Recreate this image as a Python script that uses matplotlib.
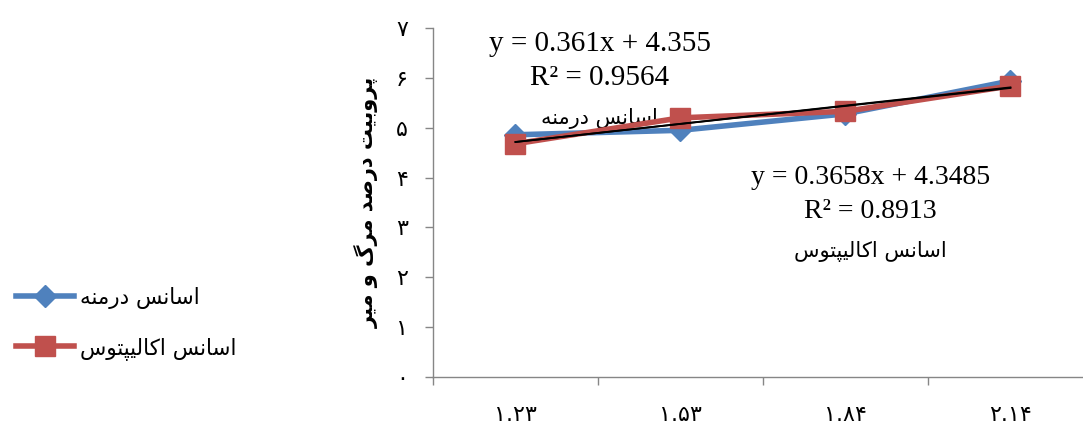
import numpy as np
import matplotlib
matplotlib.use("Agg")
import matplotlib.pyplot as plt

# ---------------- data ----------------
dose_labels = ['۱.۲۳', '۱.۵۳', '۱.۸۴', '۲.۱۴']
series_names = ['اسانس درمنه', 'اسانس اکالیپتوس']
artemisia = [4.86, 4.95, 5.28, 5.94]
eucalyptus = [4.68, 5.20, 5.33, 5.84]
trend_slopes = [0.361, 0.3658]
trend_intercepts = [4.355, 4.3485]
trend_r2 = ['0.9564', '0.8913']
trend_eq = ['y = 0.361x + 4.355', 'y = 0.3658x + 4.3485']
ytick_values = [0, 1, 2, 3, 4, 5, 6, 7]
ytick_labels = ['۰', '۱', '۲', '۳', '۴', '۵', '۶', '۷']
y_label = 'پروبیت درصد مرگ و میر'

# ------------- minimal Persian shaping (presentation forms) -------------
FORMS = {
    'ا': ('\uFE8D', '\uFE8E', None, None),
    'ب': ('\uFE8F', '\uFE90', '\uFE91', '\uFE92'),
    'ت': ('\uFE95', '\uFE96', '\uFE97', '\uFE98'),
    'س': ('\uFEB1', '\uFEB2', '\uFEB3', '\uFEB4'),
    'ص': ('\uFEB9', '\uFEBA', '\uFEBB', '\uFEBC'),
    'د': ('\uFEA9', '\uFEAA', None, None),
    'ر': ('\uFEAD', '\uFEAE', None, None),
    'ل': ('\uFEDD', '\uFEDE', '\uFEDF', '\uFEE0'),
    'م': ('\uFEE1', '\uFEE2', '\uFEE3', '\uFEE4'),
    'ن': ('\uFEE5', '\uFEE6', '\uFEE7', '\uFEE8'),
    'ه': ('\uFEE9', '\uFEEA', '\uFEEB', '\uFEEC'),
    'و': ('\uFEED', '\uFEEE', None, None),
    'پ': ('\uFB56', '\uFB57', '\uFB58', '\uFB59'),
    'ک': ('\uFB8E', '\uFB8F', '\uFB90', '\uFB91'),
    'گ': ('\uFB92', '\uFB93', '\uFB94', '\uFB95'),
    'ی': ('\uFBFC', '\uFBFD', '\uFBFE', '\uFBFF'),
}
RIGHT_ONLY = set('ادرو')


def shape(text):
    chars = list(text)
    out = []
    for i, c in enumerate(chars):
        if c not in FORMS:
            out.append(c)
            continue
        prev = chars[i - 1] if i > 0 else None
        nxt = chars[i + 1] if i + 1 < len(chars) else None
        jp = prev in FORMS and prev not in RIGHT_ONLY
        jn = nxt in FORMS and c not in RIGHT_ONLY
        f = FORMS[c]
        if jp and jn:
            g = f[3]
        elif jp:
            g = f[1]
        elif jn:
            g = f[2]
        else:
            g = f[0]
        out.append(g)
    return ''.join(reversed(out))


AR = ['DejaVu Sans']
SERIF = ['Liberation Serif', 'DejaVu Serif']

# ---------------- figure ----------------
fig = plt.figure(figsize=(10.83, 4.26), dpi=100)
ax = fig.add_axes([0.3998, 0.115, 0.6094, 0.819])

x = np.arange(1, len(dose_labels) + 1)
blue = '#4F81BD'
red = '#C0504D'
ax.plot(x, artemisia, color=blue, lw=4, marker='D', ms=11, mec=blue, mfc=blue,
        label=shape(series_names[0]), zorder=3)
ax.plot(x, eucalyptus, color=red, lw=4, marker='s', ms=15, mec=red, mfc=red,
        label=shape(series_names[1]), zorder=4)
for s, b in zip(trend_slopes, trend_intercepts):
    ax.plot(x, s * x + b, color='black', lw=1.3, zorder=5)

ax.set_xlim(0.5, 4.5)
ax.set_ylim(0, 7)
ax.set_yticks(ytick_values)
ax.set_yticklabels(ytick_labels, family=AR, fontsize=16)
ax.set_xticks(np.arange(0.5, 5.0, 1.0))
ax.set_xticklabels([])
ax.set_xticks(x, minor=True)
ax.set_xticklabels(dose_labels, minor=True, family=AR, fontsize=16)
ax.tick_params(axis='x', which='minor', length=0, pad=20)
ax.tick_params(axis='x', which='major', length=6, color='#868686', width=1)
ax.tick_params(axis='y', length=6, color='#868686', width=1, pad=12)
for sp in ['top', 'right']:
    ax.spines[sp].set_visible(False)
for sp in ['left', 'bottom']:
    ax.spines[sp].set_color('#868686')
    ax.spines[sp].set_linewidth(1)

ax.set_ylabel(shape(y_label), family=AR, fontsize=15, fontweight='bold', labelpad=12)

# trendline labels
ax.text(1.51, 6.68, trend_eq[0], family=SERIF, fontsize=21, ha='center', va='center')
ax.text(1.51, 6.0, 'R² = ' + trend_r2[0], family=SERIF, fontsize=21, ha='center', va='center')
ax.text(1.51, 5.18, shape(series_names[0]), family=AR, fontsize=15, ha='center', va='center')
ax.text(3.15, 4.0, trend_eq[1], family=SERIF, fontsize=20, ha='center', va='center')
ax.text(3.15, 3.33, 'R² = ' + trend_r2[1], family=SERIF, fontsize=20, ha='center', va='center')
ax.text(3.15, 2.52, shape(series_names[1]), family=AR, fontsize=15, ha='center', va='center')

handles, labels = ax.get_legend_handles_labels()
fig.legend(handles, labels, loc='center left', bbox_to_anchor=(-0.003, 0.241),
           frameon=False, prop={'family': AR, 'size': 15.5}, handlelength=2.7,
           handletextpad=0.25, labelspacing=1.3)

fig.savefig('out.png', dpi=100)
